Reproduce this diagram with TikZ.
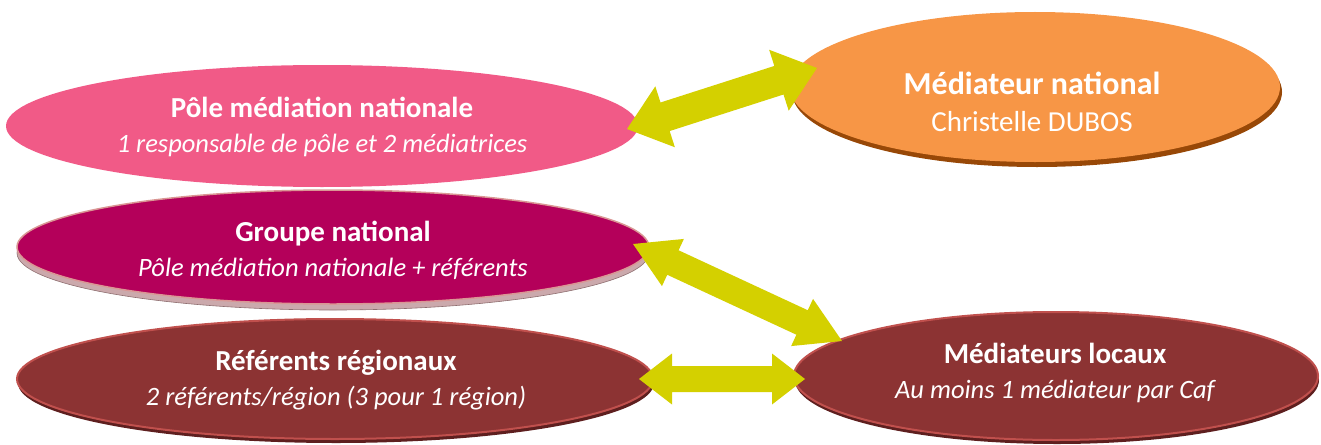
\documentclass[tikz,border=0pt]{standalone}
\usepackage{fontspec}
\setmainfont{Carlito}
\usetikzlibrary{shapes.geometric,calc}
\definecolor{pinkA}{HTML}{F15A87}
\definecolor{orangeA}{HTML}{F79646}
\definecolor{brownA}{HTML}{984807}
\definecolor{magA}{HTML}{B4005A}
\definecolor{magLine}{HTML}{DA9694}
\definecolor{bandA}{HTML}{CBA9AC}
\definecolor{bandLine}{HTML}{8E6E70}
\definecolor{redA}{HTML}{8C3333}
\definecolor{redLine}{HTML}{C0504D}
\definecolor{darkA}{HTML}{5E1F1F}
\definecolor{arrowY}{HTML}{D4D000}
\newcommand\mydblarrow[5]{%
  \coordinate (PA) at ($(#1)!#5!(#2)$);
  \coordinate (PB) at ($(#2)!#5!(#1)$);
  \fill[arrowfill] (#1) -- ($(PA)!#4!90:(#2)$) -- ($(PA)!#3!90:(#2)$)
     -- ($(PB)!#3!-90:(#1)$) -- ($(PB)!#4!-90:(#1)$) -- (#2)
     -- ($(PB)!#4!90:(#1)$) -- ($(PB)!#3!90:(#1)$)
     -- ($(PA)!#3!-90:(#2)$) -- ($(PA)!#4!-90:(#2)$) -- cycle;}
\begin{document}
\begin{tikzpicture}[x=1pt,y=-1pt,
  ell/.style={ellipse, inner sep=0pt, outer sep=0pt},
  txt/.style={text=white, align=center, inner sep=0pt, font=\fontsize{29}{35}\selectfont},
  arrowfill/.style={fill=arrowY}]
\useasboundingbox (0,0) rectangle (1321,444);
% ellipses
\node[ell, fill=pinkA, minimum width=632pt, minimum height=122pt] (pole) at (322,126) {};
\node[ell, fill=brownA, minimum width=490pt, minimum height=150pt] (medn-sh) at (1037,92) {};
\node[ell, fill=orangeA, minimum width=490pt, minimum height=150pt] (medn) at (1035,87) {};
\node[ell, fill=bandA, draw=bandLine, line width=0.6pt, minimum width=632pt, minimum height=114pt] (grp-sh) at (333,253) {};
\node[ell, fill=magA, draw=magLine, line width=1.5pt, minimum width=632pt, minimum height=114pt] (grp) at (333,247) {};
\node[ell, fill=darkA, minimum width=636pt, minimum height=120pt] (ref-sh) at (336,383) {};
\node[ell, fill=redA, draw=redLine, line width=2pt, minimum width=636pt, minimum height=120pt] (ref) at (335,379) {};
\node[ell, fill=darkA, minimum width=524pt, minimum height=128pt] (medl-sh) at (1057,380) {};
\node[ell, fill=redA, draw=redLine, line width=2pt, minimum width=524pt, minimum height=128pt] (medl) at (1056,376) {};
% texts
\node[txt] (pole-t) at (322,127) {\textbf{Pôle médiation nationale}\\{\fontsize{26.5}{35}\selectfont\itshape 1 responsable de pôle et 2 médiatrices}};
\node[txt, font=\fontsize{32}{37}\selectfont] (medn-t) at (1032,102) {\textbf{Médiateur national}\\{\fontsize{29}{37}\selectfont Christelle DUBOS}};
\node[txt] (grp-t) at (333,250) {\textbf{Groupe national}\\{\fontsize{26.5}{35}\selectfont\itshape Pôle médiation nationale + référents}};
\node[txt] (ref-t) at (336,380) {\textbf{Référents régionaux}\\{\fontsize{26.5}{35}\selectfont\itshape 2 référents/région (3 pour 1 région)}};
\node[txt] (medl-t) at (1055,373) {\textbf{Médiateurs locaux}\\{\fontsize{26.5}{35}\selectfont\itshape Au moins 1 médiateur par Caf}};
% arrow ends
\coordinate (a1s) at ([shift={(-11,3)}]pole.east);
\coordinate (a1e) at ([shift={(27,-19)}]medn.west);
\coordinate (a2s) at ([shift={(-16,-3)}]grp.east);
\coordinate (a2e) at ([shift={(48,-35)}]medl.west);
\coordinate (a3s) at ([shift={(-14,0)}]ref.east);
\coordinate (a3e) at ([shift={(11,3)}]medl.west);
\mydblarrow{a1s}{a1e}{15pt}{32pt}{40pt}
\mydblarrow{a2s}{a2e}{13.5pt}{26pt}{44pt}
\mydblarrow{a3s}{a3e}{13pt}{25.5pt}{33pt}
\end{tikzpicture}
\end{document}
